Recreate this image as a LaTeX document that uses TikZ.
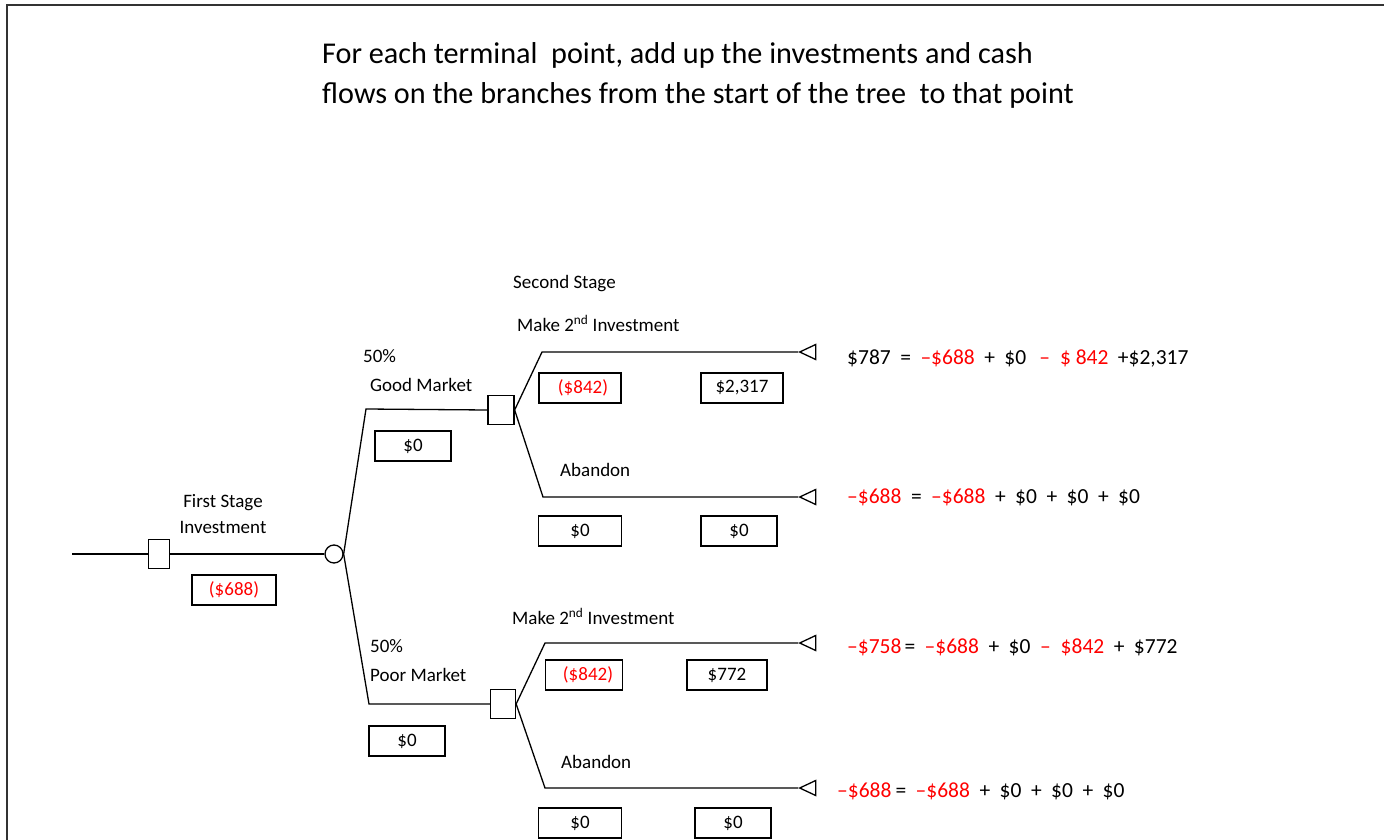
\documentclass[tikz,border=0pt]{standalone}
\usepackage{fontspec}
\setmainfont{Carlito}
\usepackage{tikz}
\usetikzlibrary{shapes.geometric,positioning}
\newcommand{\redtxt}[1]{\textcolor{red}{#1}}
\newcommand{\eqgap}{\hspace{9.5pt}}
\tikzset{
  lbl/.style={anchor=base west,inner sep=0,font=\fontsize{19}{23}\selectfont},
  eqn/.style={anchor=base west,inner sep=0,font=\fontsize{21.5}{26}\selectfont},
  cash/.style={draw,line width=1.3,minimum width=#1,minimum height=30,inner sep=0,font=\fontsize{19}{23}\selectfont},
  decision/.style={draw,line width=1.3,minimum width=#1,minimum height=29,inner sep=0},
  chance/.style={draw,circle,line width=1.3,minimum size=18,inner sep=0},
  terminal/.style={draw,isosceles triangle,isosceles triangle stretches,shape border rotate=180,
    minimum width=15,minimum height=16,inner sep=0,line width=1.3,anchor=apex},
  branch/.style={line width=1.3}
}

\begin{document}
\begin{tikzpicture}[x=1pt,y=-1pt]
    \useasboundingbox (0,0) rectangle (1384,840);
    \draw[line width=2,black!80] (7,842) -- (7,5) -- (1386,5);

    % heading
    \node[anchor=base west,inner sep=0,font=\fontsize{30.2}{36}\selectfont] (title1) at (322,64)
        {For each terminal\ \ point, add up the investments and cash};
    \node[anchor=base west,inner sep=0,font=\fontsize{30.2}{36}\selectfont] (title2) at (322,104)
        {flows on the branches from the start of the tree\ \ to that point};

    % first stage
    \coordinate (start) at (72,554);
    \node[decision=21] (d1) at (159,554) {};
    \node[chance] (c1) at (334,554) {};
    \node[lbl,anchor=base] (fs1) at (223,507) {First Stage};
    \node[lbl,anchor=base] (fs2) at (223,533) {Investment};
    \node[cash=84] (b688) at (234,590) {\redtxt{(\$688)}};
    \draw[branch] (start) -- (d1.west);
    \draw[branch] (d1.east) -- (c1.west);

    % good market
    \coordinate (gm) at (366,409);
    \node[decision=26] (d2) at (501,410) {};
    \node[lbl] (p1) at (363,362) {50\%};
    \node[lbl] (good) at (370,391) {Good Market};
    \node[cash=76] (bg0) at (413,446) {\$0};
    \draw[branch] (c1.east) -- (gm) -- (d2.west);

    \node[lbl] (stage2) at (513,288) {Second Stage};
    \node[lbl] (mk1) at (517,331) {Make 2\textsuperscript{nd} Investment};
    \coordinate (gi) at (542,352);
    \node[terminal] (t1) at (798,352) {};
    \node[cash=82] (bg842) at (580,388) {\hspace{6pt}\redtxt{(\$842)}};
    \node[cash=82] (bg2317) at (742,388) {\$2,317};
    \draw[branch] (d2.east) -- (gi) -- (t1.apex);

    \node[lbl] (ab1) at (560,476) {Abandon};
    \coordinate (ga) at (543,497);
    \node[terminal] (t2) at (798,497) {};
    \node[cash=83] (bga0) at (580,531) {\$0};
    \node[cash=76] (bgb0) at (739,531) {\$0};
    \draw[branch] (d2.east) -- (ga) -- (t2.apex);

    % poor market
    \coordinate (pm) at (369,704);
    \node[decision=25] (d3) at (503,704) {};
    \node[lbl] (p2) at (370,652) {50\%};
    \node[lbl] (poor) at (370,681) {Poor Market};
    \node[cash=76] (bp0) at (407,741) {\$0};
    \draw[branch] (c1.east) -- (pm) -- (d3.west);

    \node[lbl] (mk2) at (512,624) {Make 2\textsuperscript{nd} Investment};
    \coordinate (pi) at (545,643);
    \node[terminal] (t3) at (798,643) {};
    \node[cash=77] (bp842) at (584,675) {\hspace{8pt}\redtxt{(\$842)}};
    \node[cash=80] (bp772) at (727,675) {\$772};
    \draw[branch] (d3.east) -- (pi) -- (t3.apex);

    \node[lbl] (ab2) at (561,768) {Abandon};
    \coordinate (pa) at (545,788);
    \node[terminal] (t4) at (798,788) {};
    \node[cash=83] (bpa0) at (580,823) {\$0};
    \node[cash=76] (bpb0) at (733,823) {\$0};
    \draw[branch] (d3.east) -- (pa) -- (t4.apex);

    % terminal sums
    \node[eqn] (eq1) at (847,364)
        {\$787\eqgap=\eqgap\redtxt{--\$688}\eqgap+\eqgap\$0\hspace{13pt}\redtxt{--\hspace{10pt}\$ 842}\eqgap+\$2,317};
    \node[eqn] (eq2) at (847,503)
        {\redtxt{--\$688}\eqgap=\eqgap\redtxt{--\$688}\eqgap+\eqgap\$0\eqgap+\eqgap\$0\eqgap+\eqgap\$0};
    \node[eqn] (eq3) at (847,653)
        {\redtxt{--\$758}\hspace{3pt}=\eqgap\redtxt{--\$688}\eqgap+\eqgap\$0\eqgap\redtxt{--\hspace{10pt}\$842}\eqgap+\eqgap\$772};
    \node[eqn] (eq4) at (837,797)
        {\redtxt{--\$688}\hspace{4pt}=\eqgap\redtxt{--\$688}\eqgap+\eqgap\$0\eqgap+\eqgap\$0\eqgap+\eqgap\$0};
\end{tikzpicture}
\end{document}
